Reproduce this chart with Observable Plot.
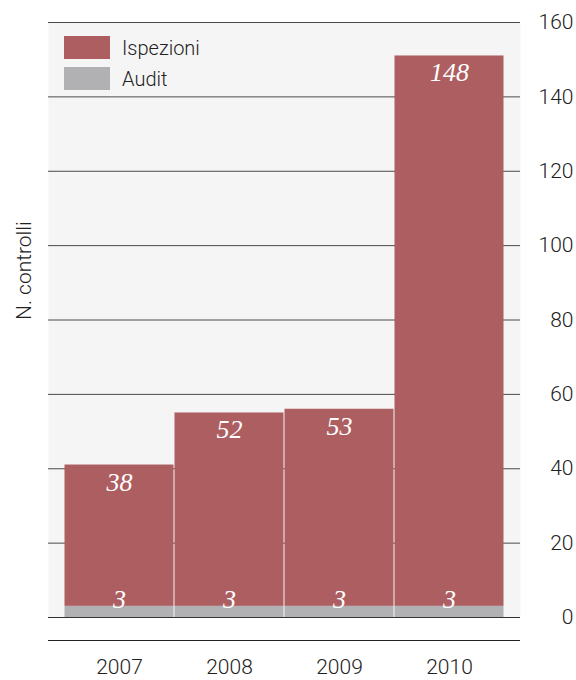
<!DOCTYPE html>
<html>
<head>
<meta charset="utf-8">
<script src="https://cdn.jsdelivr.net/npm/d3@7"></script>
<script src="https://cdn.jsdelivr.net/npm/@observablehq/plot@0.6"></script>
<style>
  html, body { margin: 0; padding: 0; background: white; }
  #wrap { position: relative; width: 576px; height: 680px; overflow: hidden; }
  .legend { position: absolute; left: 64px; top: 36px; font-family: Roboto, "Liberation Sans", sans-serif; font-weight: 300; font-size: 20px; color: #222; }
  .row { display: flex; align-items: center; height: 23px; margin-bottom: 8px; }
  .sw { width: 46px; height: 23px; margin-right: 12px; }
</style>
</head>
<body>
<div id="wrap"></div>
<script>
const years = ["2007", "2008", "2009", "2010"];
const ispezioni = [38, 52, 53, 148];
const audit = [3, 3, 3, 3];
const seriesNames = ["Audit", "Ispezioni"];
const seriesColors = ["#b1b1b3", "#ad5e60"];
const yTicks = [0, 20, 40, 60, 80, 100, 120, 140, 160];
const yLabel = "N. controlli";

const data = years.flatMap((year, i) => [
  {year, series: "Audit", value: audit[i]},
  {year, series: "Ispezioni", value: ispezioni[i]}
]);

const chart = Plot.plot({
  width: 576,
  height: 680,
  marginTop: 22,
  marginBottom: 63,
  marginLeft: 48,
  marginRight: 56,
  x: {domain: years, paddingInner: 0, paddingOuter: 0.14, label: null},
  y: {domain: [0, 160], label: null},
  color: {domain: seriesNames, range: seriesColors},
  style: {fontFamily: "Roboto, 'Liberation Sans', sans-serif", fontWeight: 300, fontSize: "21px", color: "#222", background: "white", overflow: "visible"},
  marks: [
    Plot.frame({fill: "#f5f5f5", stroke: "none"}),
    Plot.ruleY(yTicks, {stroke: "#4a4a4a", strokeWidth: 1}),
    Plot.barY(data, Plot.stackY({x: "year", y: "value", z: "series", fill: "series", order: seriesNames, insetLeft: 0.5, insetRight: 0.5})),
    Plot.ruleY([0], {stroke: "#333"}),
    Plot.ruleY([0], {stroke: "#222", dy: 23}),
    Plot.text(data, Plot.stackY2({
      x: "year", y: "value", z: "series", order: seriesNames,
      text: d => d.series === "Ispezioni" ? String(d.value) : null,
      lineAnchor: "top", dy: 7,
      fill: "white", fontFamily: "'Liberation Serif', serif", fontStyle: "italic", fontSize: 26, fontWeight: 400
    })),
    Plot.text(data, Plot.stackY2({
      x: "year", y: "value", z: "series", order: seriesNames,
      text: d => d.series === "Audit" ? String(d.value) : null,
      lineAnchor: "middle", dy: -7,
      fill: "white", fontFamily: "'Liberation Serif', serif", fontStyle: "italic", fontSize: 26, fontWeight: 400
    })),
    Plot.axisY({anchor: "right", ticks: yTicks, tickSize: 0, tickPadding: 53, textAnchor: "end", label: null, fill: "#222"}),
    Plot.axisX({tickSize: 0, tickPadding: 42, label: null, fill: "#222"}),
    Plot.text([yLabel], {frameAnchor: "left", rotate: -90, dx: -24, fontSize: 21, fill: "#222"})
  ]
});

const wrap = document.getElementById("wrap");
wrap.appendChild(chart);

const legend = document.createElement("div");
legend.className = "legend";
[...seriesNames].reverse().forEach(name => {
  const row = document.createElement("div");
  row.className = "row";
  const sw = document.createElement("div");
  sw.className = "sw";
  sw.style.background = seriesColors[seriesNames.indexOf(name)];
  const lab = document.createElement("span");
  lab.textContent = name;
  row.appendChild(sw);
  row.appendChild(lab);
  legend.appendChild(row);
});
wrap.appendChild(legend);
</script>
</body>
</html>
